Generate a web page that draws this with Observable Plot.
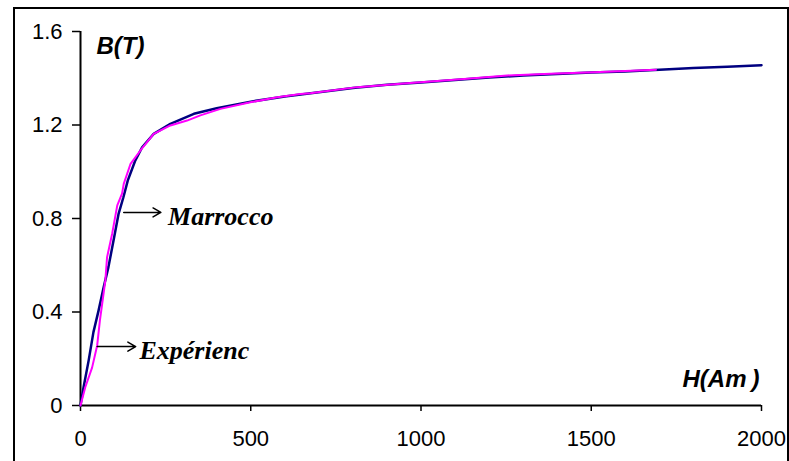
<!DOCTYPE html>
<html>
<head>
<meta charset="utf-8">
<script src="https://cdn.jsdelivr.net/npm/d3@7"></script>
<script src="https://cdn.jsdelivr.net/npm/@observablehq/plot@0.6"></script>
<style>
  html, body { margin: 0; padding: 0; background: #fff; overflow: hidden; }
  #wrap { position: relative; width: 789px; height: 461px; }
  #border { position: absolute; left: 13px; top: 7px; width: 776px; height: 480px; border: 2px solid #000; box-sizing: border-box; pointer-events: none; }
</style>
</head>
<body>
<div id="wrap"><div id="border"></div></div>
<script>
// Marrocco model (navy)
const marroccoH = [0, 9, 24, 38, 53, 68, 82, 97, 112, 126, 139, 160, 181, 215, 264, 333, 400, 500, 600, 700, 800, 900, 1000, 1100, 1200, 1300, 1400, 1500, 1600, 1700, 1800, 1900, 2000];
const marroccoB = [0, 0.078, 0.193, 0.314, 0.406, 0.506, 0.592, 0.706, 0.821, 0.891, 0.963, 1.045, 1.105, 1.162, 1.205, 1.248, 1.272, 1.300, 1.322, 1.340, 1.358, 1.372, 1.382, 1.392, 1.403, 1.412, 1.418, 1.425, 1.429, 1.436, 1.444, 1.449, 1.456];
// Experiment (magenta)
const expH = [0, 14, 34, 49, 57, 73, 78, 93, 108, 122, 127, 147, 176, 215, 264, 313, 352, 411, 499, 578, 646, 675, 813, 959, 1136, 1253, 1380, 1508, 1690];
const expB = [0, 0.078, 0.162, 0.257, 0.364, 0.535, 0.634, 0.735, 0.856, 0.906, 0.948, 1.034, 1.091, 1.162, 1.198, 1.219, 1.241, 1.269, 1.297, 1.319, 1.333, 1.336, 1.362, 1.379, 1.398, 1.412, 1.419, 1.426, 1.436];

const xTicks = [0, 500, 1000, 1500, 2000];
const yTicks = [0, 0.4, 0.8, 1.2, 1.6];
const yTickLabels = ["0", "0.4", "0.8", "1.2", "1.6"];

// annotations: arrow start/end and label start, in data units
const annotations = [
  {label: "Marrocco", H1: 127, H2: 236, Ht: 257, B: 0.826},
  {label: "Expérienc", H1: 49, H2: 162, Ht: 173, B: 0.252}
];

const marrocco = marroccoH.map((h, i) => ({H: h, B: marroccoB[i]}));
const experience = expH.map((h, i) => ({H: h, B: expB[i]}));

const chart = Plot.plot({
  width: 789,
  height: 461,
  marginLeft: 80,
  marginRight: 28,
  marginTop: 31,
  marginBottom: 56,
  style: {fontFamily: "'Liberation Sans', Arial, sans-serif", fontSize: "22px", color: "#000", background: "transparent"},
  x: {domain: [0, 2000]},
  y: {domain: [0, 1.6]},
  marks: [
    Plot.axisX({ticks: xTicks, tickSize: 6, tickPadding: 19, tickFormat: d => String(d), label: null, fontSize: 22, strokeWidth: 1.5}),
    Plot.axisY({ticks: yTicks, tickSize: 8, tickPadding: 10, tickFormat: (d, i) => yTickLabels[i], label: null, fontSize: 22, strokeWidth: 1.5}),
    Plot.ruleY([0], {stroke: "#000", strokeWidth: 2}),
    Plot.ruleX([0], {stroke: "#000", strokeWidth: 2}),
    Plot.line(marrocco, {x: "H", y: "B", stroke: "#000080", strokeWidth: 2.5}),
    Plot.line(experience, {x: "H", y: "B", stroke: "#ff00ff", strokeWidth: 2}),
    Plot.arrow(annotations, {x1: "H1", x2: "H2", y1: "B", y2: "B", stroke: "#000", strokeWidth: 1.5, headLength: 9, insetStart: 0, insetEnd: 0}),
    Plot.text(annotations, {x: "Ht", y: "B", text: "label", textAnchor: "start", dy: 4, fontFamily: "'Liberation Serif', 'Times New Roman', serif", fontWeight: "bold", fontStyle: "italic", fontSize: 26, fill: "#000"}),
    Plot.text(["B(T)"], {frameAnchor: "top-left", textAnchor: "start", lineAnchor: "top", dx: 16, dy: 5, fontWeight: "bold", fontStyle: "italic", fontSize: 24, fill: "#000"}),
    Plot.text(["H(Am"], {frameAnchor: "bottom-right", textAnchor: "end", lineAnchor: "bottom", dx: -15, dy: -19, fontWeight: "bold", fontStyle: "italic", fontSize: 24, fill: "#000"}),
    Plot.text([")"], {frameAnchor: "bottom-right", textAnchor: "end", lineAnchor: "bottom", dx: -2, dy: -19, fontWeight: "bold", fontStyle: "italic", fontSize: 24, fill: "#000"})
  ]
});
document.getElementById("wrap").appendChild(chart);
chart.style.position = "absolute";
chart.style.left = "0";
chart.style.top = "0";
</script>
</body>
</html>
